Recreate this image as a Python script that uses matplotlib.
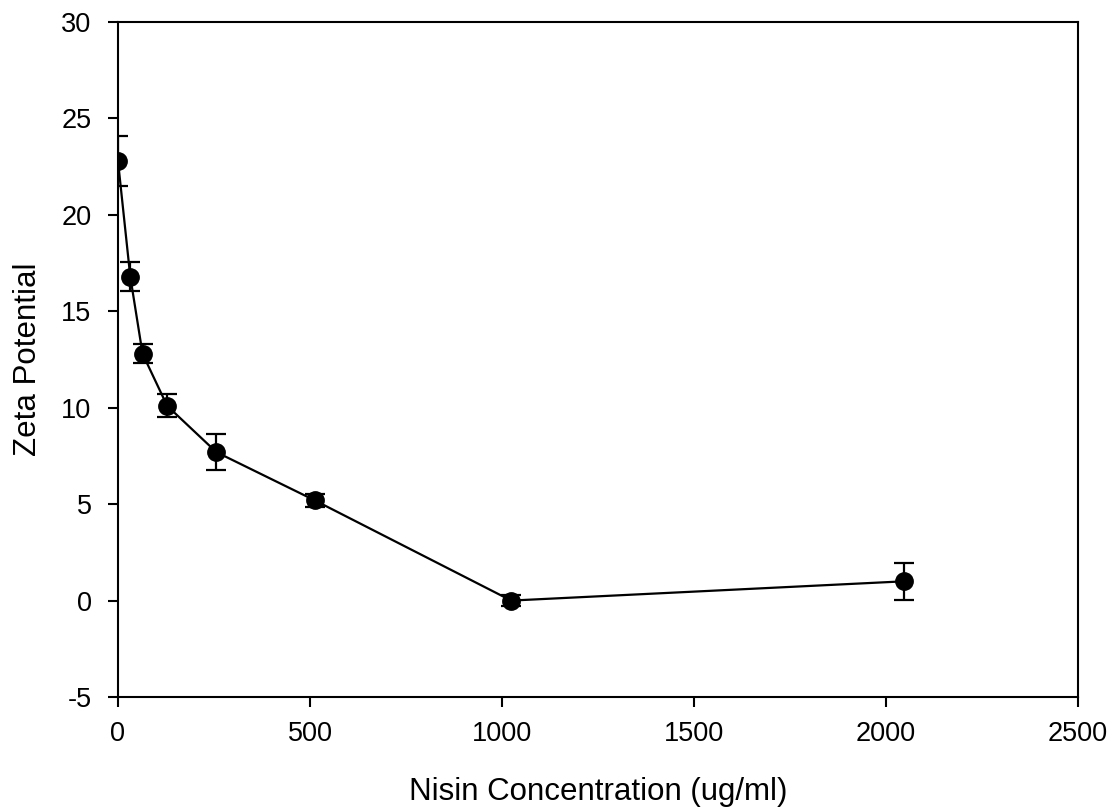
import matplotlib
matplotlib.use("Agg")
import matplotlib.pyplot as plt

# Nisin concentration vs zeta potential
conc = [0, 32, 64, 128, 256, 512, 1024, 2048]
zeta = [22.8, 16.8, 12.8, 10.1, 7.7, 5.2, 0.0, 1.0]
err = [1.3, 0.75, 0.5, 0.6, 0.95, 0.35, 0.3, 0.95]

plt.rcParams['font.family'] = ['Liberation Sans', 'DejaVu Sans']
plt.rcParams['axes.unicode_minus'] = False

fig = plt.figure(figsize=(11.13, 8.1), dpi=100)
ax = fig.add_axes([0.106, 0.1395, 0.8626, 0.8333])

ax.errorbar(conc, zeta, yerr=err, color="black", marker="o", markersize=12.5,
            linewidth=1.6, elinewidth=1.6, capsize=7, capthick=1.6)

ax.set_xlim(0, 2500)
ax.set_ylim(-5, 30)
ax.set_xticks([0, 500, 1000, 1500, 2000, 2500])
ax.set_yticks([-5, 0, 5, 10, 15, 20, 25, 30])
ax.tick_params(direction="out", length=7, width=1.5, labelsize=19.5)
ax.tick_params(axis="x", pad=10)
ax.tick_params(axis="y", pad=12)
for s in ax.spines.values():
    s.set_linewidth(1.5)

ax.set_xlabel("Nisin Concentration (ug/ml)", fontsize=22.5, labelpad=22)
ax.set_ylabel("Zeta Potential", fontsize=22.5, labelpad=13)

fig.savefig("out.png", dpi=100)
